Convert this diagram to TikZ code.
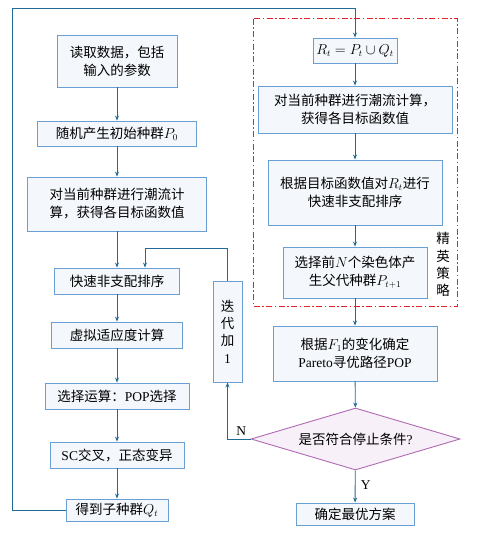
\documentclass[tikz,border=0pt]{standalone}
\usepackage{fontspec}
\setmainfont{Liberation Serif}
\newfontfamily\cjk{Noto Sans CJK SC}
\usetikzlibrary{arrows.meta,shapes.geometric}
\definecolor{cajaborde}{HTML}{6A9FD4}
\definecolor{cajafondo}{HTML}{F4F7FB}
\definecolor{flecha}{HTML}{1F6A96}
\definecolor{rombo}{HTML}{B06AB3}
\definecolor{rombofondo}{HTML}{F7F0F8}
\definecolor{rojoelite}{RGB}{224,32,42}
\newcommand{\lat}[1]{{\rmfamily #1}}
\begin{document}
\begin{tikzpicture}[x=1pt,y=-1pt,
		caja/.style={draw=cajaborde, fill=cajafondo, line width=0.9pt, inner sep=0pt, align=center,
			font=\cjk\fontsize{13.5}{18}\selectfont},
		flec/.style={draw=flecha, line width=0.9pt, -{Stealth[length=5pt,width=4pt]}},
		texto/.style={font=\cjk\fontsize{13.5}{17.3}\selectfont, align=center, inner sep=0pt}]
	\useasboundingbox (0,0) rectangle (480,545);
					% Columna izquierda
						\node[caja, minimum width=120pt, minimum height=52pt] (leer) at (117,61) {读取数据，包括\\输入的参数};
						\node[caja, minimum width=159pt, minimum height=25pt] (inicial) at (117,133.5) {随机产生初始种群$P_0$};
						\node[caja, minimum width=179pt, minimum height=54pt] (flujo) at (117,204) {对当前种群进行潮流计\\算，获得各目标函数值};
						\node[caja, minimum width=125pt, minimum height=26pt] (orden) at (117,281) {快速非支配排序};
						\node[caja, minimum width=131pt, minimum height=26pt] (aptitud) at (117,335) {虚拟适应度计算};
						\node[caja, minimum width=144pt, minimum height=26pt] (seleccion) at (117,396) {选择运算：\lat{POP}选择};
						\node[caja, minimum width=134pt, minimum height=26pt] (cruce) at (117,455) {\lat{SC}交叉，正态变异};
						\node[caja, minimum width=102pt, minimum height=22pt] (hijos) at (117,510) {得到子种群$Q_t$};
						
					% Columna derecha
						\node[caja, minimum width=84pt, minimum height=25pt] (union) at (355,50.5) {$R_t = P_t \cup Q_t$};
						\node[caja, minimum width=194pt, minimum height=47pt] (flujodos) at (355,109.5) {对当前种群进行潮流计算，\\获得各目标函数值};
						\node[caja, minimum width=174pt, minimum height=65pt] (ordendos) at (355,192.5) {根据目标函数值对$R_t$进行\\快速非支配排序};
						\node[caja, minimum width=144pt, minimum height=51pt] (padres) at (355,272.5) {选择前$N$个染色体产\\生父代种群$P_{t+1}$};
						\node[caja, minimum width=164pt, minimum height=55pt] (pareto) at (355,353.5) {根据$F_1$的变化确定\\\lat{Pareto}寻优路径\lat{POP}};
						\node[diamond, draw=rombo, fill=rombofondo, line width=0.9pt, inner sep=0pt, aspect=3.37,
							minimum width=209pt, minimum height=62pt, font=\cjk\fontsize{13.5}{18}\selectfont] (parar) at (355.5,439) {是否符合停止条件\lat{?}};
						\node[caja, minimum width=118pt, minimum height=22pt] (fin) at (355,514) {确定最优方案};
						\node[caja, minimum width=29pt, minimum height=101pt] (iter) at (227.5,331.5) {};
						\node[texto] at (iter) {迭\\代\\加\\\lat{1}};
						
					% Estrategia elitista
						\draw[color=rojoelite, line width=1pt, dash pattern=on 6pt off 2.5pt on 1.5pt off 2.5pt] (253,19) rectangle (457,306);
						\node[texto] (elite) at (443,264.5) {精\\英\\策\\略};
						
					% Flechas
						\draw[flec] (leer) -- (inicial);
						\draw[flec] (inicial) -- (flujo);
						\draw[flec] (flujo) -- (orden);
						\draw[flec] (orden) -- (aptitud);
						\draw[flec] (aptitud) -- (seleccion);
						\draw[flec] (seleccion) -- (cruce);
						\draw[flec] (cruce) -- (hijos);
						\coordinate (esquina) at (12,8);
						\draw[flec] (hijos.west) -| (esquina) -| (union.north);
						\draw[flec] (union) -- (flujodos);
						\draw[flec] (flujodos) -- (ordendos);
						\draw[flec] (ordendos) -- (padres);
						\draw[flec] (padres) -- (pareto);
						\draw[flec] (pareto) -- (parar);
						\draw[flec] (parar) -- node[right, pos=0.45, font=\fontsize{13.5}{15}\selectfont, xshift=2pt] {Y} (fin);
						\draw[flec] (parar.west) -| node[pos=0.2, above, font=\fontsize{13.5}{15}\selectfont] {N} (iter.south);
						\coordinate (vuelta) at (145,248);
						\draw[flec] (iter.north) |- (vuelta) -- (vuelta |- orden.north);
\end{tikzpicture}
\end{document}
